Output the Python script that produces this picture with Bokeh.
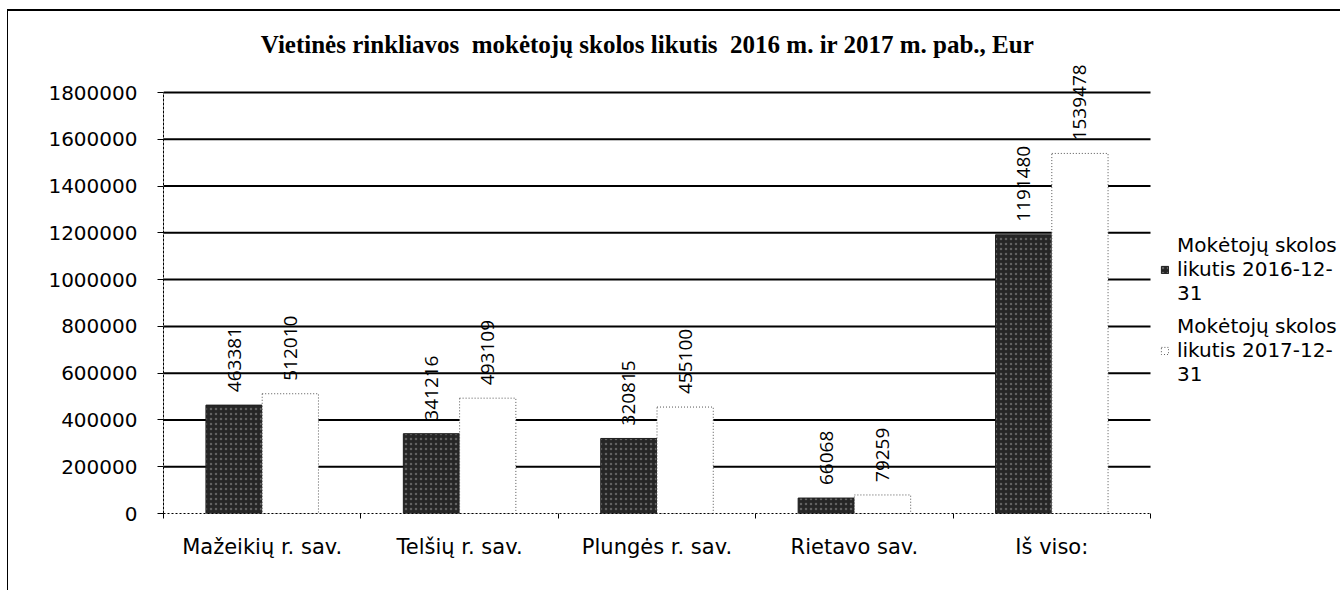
import numpy as np
from bokeh.plotting import figure
from bokeh.models import (ColumnDataSource, FixedTicker, LabelSet, Label, Legend,
                          LegendItem, Range1d, NumeralTickFormatter)
from bokeh.core.properties import value
from bokeh.embed import file_html
from bokeh.resources import INLINE

# ---- data ----
categories = ["Mažeikių r. sav.", "Telšių r. sav.", "Plungės r. sav.", "Rietavo sav.", "Iš viso:"]
debt_2016 = [463381, 341216, 320815, 66068, 1191480]
debt_2017 = [512010, 493109, 455100, 79259, 1539478]
series_names = ["Mokėtojų skolos\nlikutis 2016-12-\n31", "Mokėtojų skolos\nlikutis 2017-12-\n31"]
y_ticks = list(range(0, 1800001, 200000))
title_text = "Vietinės rinkliavos\u00a0 mokėtojų skolos likutis\u00a0 2016 m. ir 2017 m. pab., Eur"

# ---- layout (pixels) ----
W, H = 1333, 581              # canvas size (placed at page x=8, y=11 via margins)
LEFT, BOTTOM = 155, 79        # space for axes
PLOT_W, PLOT_H = 987, 421     # size of the category / value area
frame_w, frame_h = W - LEFT, H - BOTTOM
n = len(categories)
x_end = n * frame_w / PLOT_W
y_end = y_ticks[-1] * frame_h / PLOT_H

p = figure(width=W, height=H, output_backend="svg", toolbar_location=None,
           x_range=Range1d(0, x_end), y_range=Range1d(0, y_end),
           min_border_left=LEFT, min_border_right=0,
           min_border_top=0, min_border_bottom=BOTTOM)
p.outline_line_color = None
p.background_fill_color = "white"
p.border_fill_color = "white"
p.styles = {"margin-left": "7px", "margin-top": "9px",
            "border-top": "2px solid black", "border-left": "1px solid black"}

centers = np.arange(n) + 0.5
bw = 0.285
src = ColumnDataSource(dict(
    x16=centers - bw / 2, x17=centers + bw / 2,
    v16=debt_2016, v17=debt_2017,
    t16=[str(v) for v in debt_2016], t17=[str(v) for v in debt_2017],
))

# grid lines (limited to the category area)
p.xgrid.visible = False
p.ygrid.visible = False
gy = y_ticks[1:]
p.segment(x0=[0] * len(gy), x1=[n] * len(gy), y0=gy, y1=gy,
          line_color="black", line_width=2)

# bars
r16 = p.vbar(x="x16", top="v16", width=bw, source=src,
             fill_color="#262626", line_color="#1e1e1e", line_width=1,
             hatch_pattern="dot", hatch_color="#8a8a8a", hatch_scale=5,
             hatch_weight=1, hatch_alpha=0.6)
r17 = p.vbar(x="x17", top="v17", width=bw, source=src,
             fill_color="white", line_color="#555555", line_width=1,
             line_dash="1 2")

# data labels
for xcol, ycol, tcol in (("x16", "v16", "t16"), ("x17", "v17", "t17")):
    p.add_layout(LabelSet(x=xcol, y=ycol, text=tcol, source=src,
                          angle=np.pi / 2, text_align="left", text_baseline="middle",
                          y_offset=13, text_font=value("Open Sans"),
                          text_font_size=value("19px"), text_color="black"))

# axes
p.yaxis.ticker = FixedTicker(ticks=y_ticks)
p.yaxis.bounds = (0, y_ticks[-1])
p.yaxis.formatter = NumeralTickFormatter(format="0")
p.yaxis.major_label_text_font = "DejaVu Sans"
p.yaxis.major_label_text_font_size = "20px"
p.yaxis.major_label_text_color = "black"
p.yaxis.major_tick_out = 6
p.yaxis.major_tick_in = 0
p.yaxis.major_tick_line_color = "black"
p.yaxis.minor_tick_line_color = None
p.yaxis.major_label_standoff = 20
p.yaxis.axis_line_color = "black"
p.yaxis.axis_line_dash = "3 1"

p.xaxis.ticker = FixedTicker(ticks=list(centers), minor_ticks=list(range(n + 1)))
p.xaxis.bounds = (0, n)
p.xaxis.major_label_overrides = {float(c): name for c, name in zip(centers, categories)}
p.xaxis.major_label_text_font = "DejaVu Sans"
p.xaxis.major_label_text_font_size = "21px"
p.xaxis.major_label_text_color = "black"
p.xaxis.major_tick_line_color = None
p.xaxis.major_tick_out = 0
p.xaxis.major_tick_in = 0
p.xaxis.minor_tick_out = 5
p.xaxis.minor_tick_in = 0
p.xaxis.minor_tick_line_color = "black"
p.xaxis.major_label_standoff = 16
p.xaxis.axis_line_color = "black"
p.xaxis.axis_line_dash = "2 2"

# title
p.add_layout(Label(x=484, y=469, x_units="screen", y_units="screen", text=title_text,
                   text_align="center", text_baseline="middle",
                   text_font="Liberation Serif", text_font_style="bold",
                   text_font_size="25px", text_color="black"))

# legend
legend = Legend(items=[LegendItem(label=series_names[0], renderers=[r16]),
                       LegendItem(label=series_names[1], renderers=[r17])],
                location=(997, 127), orientation="vertical",
                padding=0, margin=0, spacing=9,
                glyph_width=9, glyph_height=9, label_standoff=8,
                label_text_font="DejaVu Sans", label_text_font_size="20px",
                label_text_line_height=1.25, label_text_color="black",
                border_line_color=None, background_fill_alpha=0)
p.add_layout(legend)

open("out.html", "w").write(file_html(p, INLINE))
